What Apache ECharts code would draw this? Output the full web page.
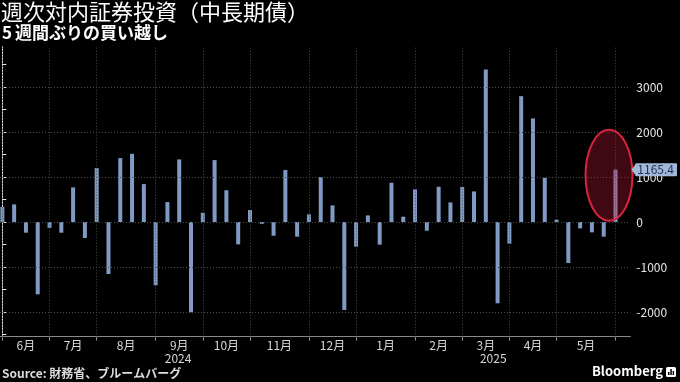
<!DOCTYPE html>
<html><head><meta charset="utf-8">
<script src="https://cdn.jsdelivr.net/npm/echarts@6/dist/echarts.min.js"></script>
<style>html,body{margin:0;padding:0;background:#000;}#c{width:680px;height:382px;}</style>
</head><body><div id="c"></div>
<script>
// ---- data ----
const weeks = ['2024-06-07','2024-06-14','2024-06-21','2024-06-28','2024-07-05','2024-07-12','2024-07-19','2024-07-26',
'2024-08-02','2024-08-09','2024-08-16','2024-08-23','2024-08-30','2024-09-06','2024-09-13','2024-09-20','2024-09-27',
'2024-10-04','2024-10-11','2024-10-18','2024-10-25','2024-11-01','2024-11-08','2024-11-15','2024-11-22','2024-11-29',
'2024-12-06','2024-12-13','2024-12-20','2024-12-27','2025-01-03','2025-01-10','2025-01-17','2025-01-24','2025-01-31',
'2025-02-07','2025-02-14','2025-02-21','2025-02-28','2025-03-07','2025-03-14','2025-03-21','2025-03-28',
'2025-04-04','2025-04-11','2025-04-18','2025-04-25','2025-05-02','2025-05-09','2025-05-16','2025-05-23','2025-05-30','2025-06-06'];
const values = [340,393,-237,-1607,-127,-237,771,-356,1200,-1156,1422,1518,844,-1407,444,1393,-2007,207,1378,708,
-496,267,-40,-304,1156,-326,170,1000,370,-1956,-548,148,-504,874,119,726,-193,785,437,778,681,3393,-1807,-481,
2800,2304,985,52,-911,-141,-230,-326,1165.4];
const yTickValues = [-2000,-1000,0,1000,2000,3000];
const yMinorTicks = [-2500,-2000,-1500,-1000,-500,0,500,1000,1500,2000,2500,3000,3500];
const latestValue = 1165.4;
const titleText = '週次対内証券投資（中長期債）';
const subtitleNum = '5';
const subtitleText = '週間ぶりの買い越し';
const sourceText = '財務省、ブルームバーグ';

// ---- layout constants ----
const XMIN = -0.2, XMAX = 53.26, YMIN = -2550, YMAX = 3900;
const FONT = "'Noto Sans CJK JP','Noto Sans',sans-serif";

// derive month/year boundaries from the week dates
const monthStarts = [], yearStarts = [];
weeks.forEach((d, i) => {
  const [y, m] = d.split('-');
  if (i === 0 || weeks[i-1].split('-')[1] !== m) monthStarts.push(i);
  if (i === 0 || weeks[i-1].split('-')[0] !== y) yearStarts.push(i);
});
const monthLabelMap = {};
const monthMids = [];
for (let k = 0; k < monthStarts.length - 1; k++) {
  const mid = (monthStarts[k] + monthStarts[k+1]) / 2;
  monthMids.push(mid);
  monthLabelMap[String(mid)] = parseInt(weeks[monthStarts[k]].split('-')[1], 10) + '月';
}
const yearLabelMap = {};
const yearMids = [];
for (let k = 0; k < yearStarts.length; k++) {
  const a = k === 0 ? XMIN : yearStarts[k];
  const b = k + 1 < yearStarts.length ? yearStarts[k+1] : XMAX;
  const mid = (a + b) / 2;
  yearMids.push(mid);
  yearLabelMap[String(mid)] = weeks[yearStarts[k]].split('-')[0];
}
const yearSeparators = yearStarts.slice(1);

const chart = echarts.init(document.getElementById('c'), null, {renderer: 'canvas'});
const gridLine = {color: '#4b4b4b', type: [1, 2], width: 1};
chart.setOption({
  backgroundColor: '#000',
  animation: false,
  textStyle: {fontFamily: FONT},
  title: [
    {text: titleText, left: 1, top: 1, padding: 0,
     textStyle: {color: '#fff', fontSize: 22, fontWeight: 'normal', fontFamily: FONT}},
    {text: '{b|' + subtitleNum + '}{n|' + subtitleText + '}', left: 2, top: 24, padding: 0,
     textStyle: {rich: {b: {color: '#fff', fontSize: 17, fontWeight: 'bold', fontFamily: FONT, padding: [0, 3, 0, 0]},
                        n: {color: '#fff', fontSize: 17, fontFamily: FONT}}}},
    {text: '{b|Source: }{n|' + sourceText + '}', left: 2, top: 367, padding: 0,
     textStyle: {rich: {b: {color: '#ddd', fontSize: 12, fontWeight: 'bold', fontFamily: FONT},
                        n: {color: '#ddd', fontSize: 12, fontFamily: FONT}}}},
    {text: 'Bloomberg', left: 592, top: 365, padding: 0,
     textStyle: {color: '#fff', fontSize: 13, fontWeight: 'bold', fontFamily: FONT}}
  ],
  grid: {left: 0, right: 46, top: 46.7, bottom: 45.3, containLabel: false},
  xAxis: [
    {type: 'value', min: XMIN, max: XMAX, position: 'bottom',
     axisLine: {show: true, onZero: false, lineStyle: {color: '#8a8a8a', width: 1}},
     axisTick: {show: true, customValues: monthStarts, length: 4, lineStyle: {color: '#8a8a8a'}},
     axisLabel: {show: true, customValues: monthMids, formatter: v => monthLabelMap[String(v)] || '',
                 color: '#d8d8d8', fontSize: 12, margin: 3, fontFamily: FONT},
     splitLine: {show: false}},
    {type: 'value', min: XMIN, max: XMAX, position: 'bottom', offset: 15,
     axisLine: {show: false},
     axisTick: {show: true, customValues: yearSeparators, length: 14, lineStyle: {color: '#8a8a8a'}},
     axisLabel: {show: true, customValues: yearMids, formatter: v => yearLabelMap[String(v)] || '',
                 color: '#d8d8d8', fontSize: 12, margin: 1, fontFamily: FONT},
     splitLine: {show: false}}
  ],
  yAxis: [
    {type: 'value', min: YMIN, max: YMAX, position: 'right',
     axisLine: {show: true, lineStyle: {color: '#e6e6e6', width: 1}},
     axisTick: {show: true, customValues: yMinorTicks, length: 4, lineStyle: {color: '#e6e6e6'}},
     axisLabel: {show: true, customValues: yTickValues, formatter: v => String(v),
                 color: '#e6e6e6', fontSize: 12, margin: 6, fontFamily: FONT},
     splitLine: {show: false}},
    {type: 'value', min: YMIN, max: YMAX, position: 'right',
     axisLine: {show: false}, axisTick: {show: false},
     axisLabel: {show: true, customValues: [latestValue], formatter: v => String(latestValue),
                 color: '#17345a', fontSize: 12, margin: 5, fontFamily: FONT,
                 backgroundColor: '#a3b8d6', padding: [0, 3, 0, 2], lineHeight: 13, borderRadius: 1},
     splitLine: {show: false}}
  ],
  series: [
    {type: 'line', data: [], z: 1, silent: true, xAxisIndex: 0, yAxisIndex: 0,
     markLine: {symbol: ['none', 'none'], silent: true, animation: false, label: {show: false},
                lineStyle: gridLine,
                data: monthStarts.map(i => ({xAxis: i})).concat(yTickValues.map(v => ({yAxis: v})))}},
    {type: 'bar', xAxisIndex: 0, yAxisIndex: 0, z: 2, barWidth: 4,
     itemStyle: {color: '#7f9bc5'},
     data: values.map((v, i) => [i, v])}
  ]
});

// annotation ellipse around the latest bar, and tag arrow, positioned through the scales
const lastIdx = values.length - 1;
const ec = chart.convertToPixel({xAxisIndex: 0, yAxisIndex: 0}, [lastIdx - 0.55, 1040]);
const ty = chart.convertToPixel({yAxisIndex: 0}, latestValue);
const ax = chart.convertToPixel({xAxisIndex: 0}, XMAX);
chart.setOption({
  graphic: [
    {type: 'ellipse', z: 50, silent: true,
     shape: {cx: ec[0], cy: ec[1], rx: 23.5, ry: 45.5},
     style: {fill: 'rgba(200,25,55,0.32)', stroke: '#d8243f', lineWidth: 2}},
    {type: 'polygon', z: 50, silent: true,
     shape: {points: [[ax + 1, ty], [ax + 6, ty - 6.5], [ax + 6, ty + 6.5]]},
     style: {fill: '#a3b8d6'}},
    {type: 'group', left: 666, top: 367, children: [
      {type: 'rect', shape: {x: 0, y: 0, width: 10, height: 10, r: 1.5}, style: {fill: '#fff'}},
      {type: 'rect', shape: {x: 2, y: 5, width: 1.5, height: 3}, style: {fill: '#000'}},
      {type: 'rect', shape: {x: 4.3, y: 2, width: 1.5, height: 6}, style: {fill: '#000'}},
      {type: 'rect', shape: {x: 6.6, y: 4, width: 1.5, height: 4}, style: {fill: '#000'}}
    ]}
  ]
});
</script>
</body></html>
